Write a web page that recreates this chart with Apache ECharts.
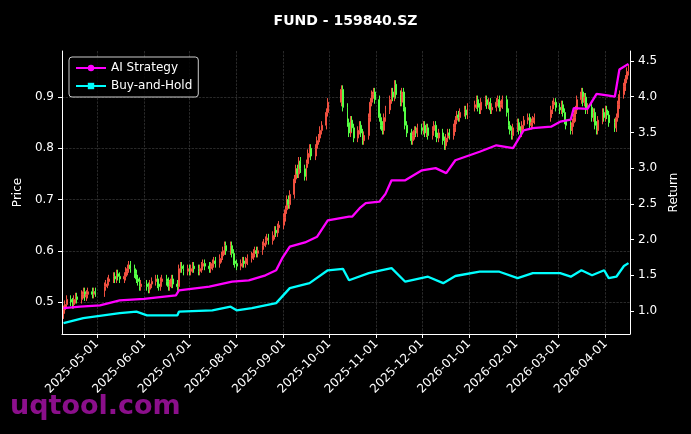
<!DOCTYPE html>
<html><head><meta charset="utf-8">
<script src="https://cdn.jsdelivr.net/npm/echarts@6/dist/echarts.min.js"></script>
<style>html,body{margin:0;padding:0;background:#000}#c{width:691px;height:434px}</style>
</head><body><div id="c"></div>
<script>
// daily closes per month
const closeApr25=[0.485,0.495,0.505,0.50,0.495,0.505,0.51,0.505,0.515,0.52,0.51,0.515,0.52,0.515,0.52,0.518];
const closeMay25=[0.53,0.535,0.54,0.545,0.55,0.545,0.555,0.55,0.545,0.55,0.56,0.565,0.572,0.565,0.555,0.545,0.54,0.53,0.535];
const closeJun25=[0.53,0.525,0.535,0.54,0.545,0.535,0.53,0.54,0.545,0.54,0.53,0.535,0.545,0.535,0.53,0.565,0.57,0.565,0.56,0.565];
const closeJul25=[0.56,0.565,0.57,0.565,0.56,0.565,0.57,0.575,0.57,0.565,0.57,0.575,0.58,0.575,0.585,0.59,0.60,0.61,0.60,0.61,0.595,0.58,0.575];
const closeAug25=[0.57,0.575,0.58,0.575,0.58,0.585,0.59,0.595,0.60,0.595,0.60,0.61,0.615,0.62,0.625,0.62,0.63,0.64,0.635,0.645,0.65];
const closeSep25=[0.665,0.68,0.70,0.69,0.71,0.74,0.76,0.75,0.775,0.76,0.745,0.77,0.79,0.80,0.785,0.80,0.815,0.82,0.835,0.845,0.87,0.89];
const closeOct25=[0.915,0.88,0.85,0.83,0.855,0.84,0.82,0.835,0.845,0.83,0.815,0.825,0.86,0.89,0.905,0.91,0.895];
const closeNov25=[0.86,0.845,0.835,0.86,0.875,0.895,0.91,0.90,0.925,0.905,0.89,0.91,0.88,0.845,0.83,0.815,0.825,0.835,0.83,0.84];
const closeDec25=[0.835,0.845,0.83,0.84,0.825,0.835,0.845,0.83,0.82,0.83,0.815,0.805,0.82,0.83,0.825,0.84,0.855,0.865,0.86,0.87,0.875,0.865,0.88];
const closeJan26=[0.885,0.895,0.88,0.875,0.89,0.895,0.885,0.89,0.875,0.88,0.89,0.895,0.88,0.885,0.895,0.87,0.845,0.835,0.825,0.84];
const closeFeb26=[0.85,0.835,0.83,0.845,0.855,0.86,0.845,0.85,0.855,0.86,0.875,0.885,0.89,0.88];
const closeMar26=[0.875,0.885,0.87,0.855,0.845,0.835,0.85,0.86,0.875,0.895,0.91,0.89,0.90,0.875,0.88,0.86,0.87,0.845,0.835,0.855,0.87,0.86];
const closeApr26=[0.875,0.865,0.85,0.84,0.86,0.885,0.905,0.92,0.935,0.95,0.955];
const firstOpen=0.475;

const aiStrategy=[["2025-04-09",1.04],["2025-04-20",1.06],["2025-05-03",1.08],["2025-05-16",1.15],["2025-06-01",1.17],["2025-06-22",1.22],["2025-06-24",1.29],["2025-07-14",1.34],["2025-07-29",1.41],["2025-08-09",1.43],["2025-08-20",1.50],["2025-08-27",1.57],["2025-08-31",1.74],["2025-09-05",1.90],["2025-09-15",1.96],["2025-09-23",2.04],["2025-09-30",2.27],["2025-10-14",2.32],["2025-10-16",2.32],["2025-10-21",2.44],["2025-10-25",2.51],["2025-11-03",2.53],["2025-11-07",2.64],["2025-11-11",2.83],["2025-11-20",2.83],["2025-12-01",2.97],["2025-12-10",3.0],["2025-12-17",2.93],["2025-12-23",3.11],["2026-01-08",3.23],["2026-01-19",3.32],["2026-01-30",3.28],["2026-02-06",3.53],["2026-02-12",3.56],["2026-02-24",3.58],["2026-03-02",3.65],["2026-03-09",3.68],["2026-03-11",3.84],["2026-03-20",3.83],["2026-03-26",4.04],["2026-04-02",4.02],["2026-04-07",4.0],["2026-04-10",4.38],["2026-04-16",4.46]];
const buyHold=[["2025-04-09",0.83],["2025-04-22",0.90],["2025-05-16",0.97],["2025-05-27",0.99],["2025-06-03",0.94],["2025-06-23",0.94],["2025-06-24",0.99],["2025-07-16",1.01],["2025-07-28",1.06],["2025-08-01",1.01],["2025-08-11",1.04],["2025-08-27",1.11],["2025-09-05",1.32],["2025-09-18",1.39],["2025-09-30",1.57],["2025-10-10",1.59],["2025-10-14",1.43],["2025-10-27",1.53],["2025-11-04",1.57],["2025-11-11",1.60],["2025-11-20",1.41],["2025-12-05",1.48],["2025-12-15",1.39],["2025-12-23",1.49],["2026-01-08",1.55],["2026-01-21",1.55],["2026-02-02",1.46],["2026-02-12",1.53],["2026-03-02",1.53],["2026-03-09",1.48],["2026-03-16",1.57],["2026-03-23",1.50],["2026-03-31",1.57],["2026-04-03",1.46],["2026-04-08",1.48],["2026-04-13",1.63],["2026-04-16",1.67]];

const priceTicks=[0.5,0.6,0.7,0.8,0.9];
const returnTicks=[1.0,1.5,2.0,2.5,3.0,3.5,4.0,4.5];
const monthTicks=["2025-05-01","2025-06-01","2025-07-01","2025-08-01","2025-09-01","2025-10-01","2025-11-01","2025-12-01","2026-01-01","2026-02-01","2026-03-01","2026-04-01"];

const holidays=new Set(["2025-05-01","2025-05-02","2025-05-05","2025-06-02","2025-10-01","2025-10-02","2025-10-03","2025-10-06","2025-10-07","2025-10-08","2026-01-01","2026-01-02","2026-02-16","2026-02-17","2026-02-18","2026-02-19","2026-02-20","2026-02-23","2026-04-06"]);
const months=[[2025,4,closeApr25,9],[2025,5,closeMay25],[2025,6,closeJun25],[2025,7,closeJul25],[2025,8,closeAug25],[2025,9,closeSep25],[2025,10,closeOct25],[2025,11,closeNov25],[2025,12,closeDec25],[2026,1,closeJan26],[2026,2,closeFeb26],[2026,3,closeMar26],[2026,4,closeApr26]];
const pad=n=>String(n).padStart(2,'0');
const candles=[];let prev=firstOpen;
months.forEach(([y,m,arr,startDay])=>{
  const days=[];
  for(let d=startDay||1;d<=31;d++){
    const dt=new Date(Date.UTC(y,m-1,d));
    if(dt.getUTCMonth()!==m-1)break;
    const wd=dt.getUTCDay(); const s=y+'-'+pad(m)+'-'+pad(d);
    if(wd===0||wd===6||holidays.has(s))continue;
    days.push(s);
  }
  arr.forEach((c,i)=>{ if(i>=days.length)return;
    const o=prev; candles.push([days[i],o,c,Math.min(o,c)-0.008,Math.max(o,c)+0.008]); prev=c;});
});
const ts=s=>Date.parse(s+'T00:00:00Z');

const chart=echarts.init(document.getElementById('c'));
const white='#ffffff';
chart.setOption({
  backgroundColor:'#000',
  animation:false,
  title:{text:'FUND - 159840.SZ',left:'center',top:9,textStyle:{color:white,fontSize:14,fontWeight:'bold',fontFamily:'DejaVu Sans'}},
  legend:{left:69,top:57,orient:'vertical',itemGap:6,itemWidth:30,itemHeight:8,padding:[5,6],
    backgroundColor:'rgba(0,0,0,0.85)',borderColor:'#cccccc',borderWidth:1,borderRadius:3,
    textStyle:{color:white,fontSize:12,fontFamily:'DejaVu Sans'},data:['AI Strategy','Buy-and-Hold']},
  graphic:[{type:'text',left:10,top:393,z:100,style:{text:'uqtool.com',fill:'#8b0f8b',font:'bold 27px "DejaVu Sans"'}}],
  grid:{left:62,right:61,top:51,bottom:100},
  xAxis:{type:'value',min:ts('2025-04-08'),max:ts('2026-04-17'),
    axisLine:{lineStyle:{color:white}},
    axisTick:{customValues:monthTicks.map(ts),lineStyle:{color:white},length:4},
    axisLabel:{customValues:monthTicks.map(ts),rotate:45,color:white,fontSize:12,fontFamily:'DejaVu Sans',
      formatter:v=>{const d=new Date(v);return d.getUTCFullYear()+'-'+pad(d.getUTCMonth()+1)+'-'+pad(d.getUTCDate());}},
    splitLine:{show:true,lineStyle:{color:'#444',type:'dashed',width:0.6}}},
  yAxis:[
    {type:'value',min:0.4375,max:0.99,name:'Price',nameLocation:'middle',nameGap:38,
     nameTextStyle:{color:white,fontSize:12,fontFamily:'DejaVu Sans'},
     axisLine:{show:true,lineStyle:{color:white}},
     axisTick:{show:true,customValues:priceTicks,lineStyle:{color:white},length:4},
     axisLabel:{customValues:priceTicks,color:white,fontSize:12,fontFamily:'DejaVu Sans',formatter:v=>v.toFixed(1)},
     splitLine:{show:true,lineStyle:{color:'#444',type:'dashed',width:0.6}}},
    {type:'value',min:0.678,max:4.64,name:'Return',nameLocation:'middle',nameGap:38,
     nameTextStyle:{color:white,fontSize:12,fontFamily:'DejaVu Sans'},
     axisLine:{show:true,lineStyle:{color:white}},
     axisTick:{show:true,customValues:returnTicks,lineStyle:{color:white},length:4},
     axisLabel:{customValues:returnTicks,color:white,fontSize:12,fontFamily:'DejaVu Sans',formatter:v=>v.toFixed(1)},
     splitLine:{show:false}}
  ],
  series:[
    {type:'candlestick',name:'Price',data:candles.map(c=>[ts(c[0]),c[1],c[2],c[3],c[4]]),barWidth:1.4,
     itemStyle:{color:'#f05040',color0:'#55ff44',borderColor:'#f05040',borderColor0:'#55ff44',borderWidth:1}},
    {type:'line',name:'AI Strategy',yAxisIndex:1,data:aiStrategy.map(p=>[ts(p[0]),p[1]]),showSymbol:false,symbol:'circle',symbolSize:4,
     lineStyle:{color:'#ff00ff',width:2.3},itemStyle:{color:'#ff00ff'}},
    {type:'line',name:'Buy-and-Hold',yAxisIndex:1,data:buyHold.map(p=>[ts(p[0]),p[1]]),showSymbol:false,symbol:'rect',symbolSize:4,
     lineStyle:{color:'#00ffff',width:2.3},itemStyle:{color:'#00ffff'}}
  ]
});
</script></body></html>
